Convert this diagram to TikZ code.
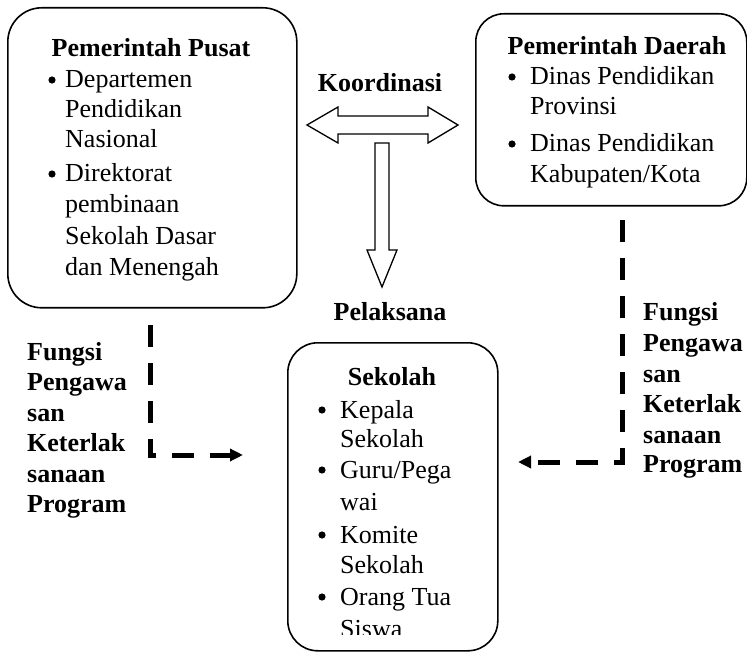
\documentclass[tikz,border=0pt]{standalone}
\usepackage{fontspec}
\setmainfont{Liberation Serif}
\usetikzlibrary{arrows.meta}
\begin{document}
\begin{tikzpicture}[x=1pt,y=-1pt,
  box/.style={draw, line width=1.6pt, rounded corners=34pt, anchor=north west, inner sep=0pt},
  txt/.style={anchor=base west, inner sep=0pt, font=\fontsize{26}{30}\selectfont},
  ttl/.style={anchor=base, inner sep=0pt, font=\fontsize{26}{30}\selectfont\bfseries},
  lbl/.style={anchor=base west, inner sep=0pt, font=\fontsize{26}{30}\selectfont\bfseries},
  blockarrow/.style={draw, line width=1.3pt, fill=white, line join=miter},
  dashline/.style={line width=5pt, dash pattern=on 22pt off 16pt, line join=miter,
    -{Triangle[length=13pt,width=12pt]}}
]
\useasboundingbox (0,0) rectangle (747,652);

% boxes
\node[box, minimum width=289pt, minimum height=300pt] (pusat) at (7,7) {};
\node[box, minimum width=271pt, minimum height=192pt, rounded corners=28pt] (daerah) at (475,13) {};
\node[box, minimum width=210pt, minimum height=308pt, rounded corners=30pt] (sekolah) at (287,342) {};

% Pemerintah Pusat
\node[ttl] (pt) at (151,57) {Pemerintah Pusat};
\fill (52,80) circle (3.6pt);
\fill (52,174) circle (3.6pt);
\node[txt] (p1) at (65,88) {Departemen};
\node[txt] (p2) at (65,118) {Pendidikan};
\node[txt] (p3) at (65,148) {Nasional};
\node[txt] (p4) at (65,182) {Direktorat};
\node[txt] (p5) at (65,213) {pembinaan};
\node[txt] (p6) at (65,245) {Sekolah Dasar};
\node[txt] (p7) at (65,276) {dan Menengah};

% Pemerintah Daerah
\node[ttl] (dt) at (617,55) {Pemerintah Daerah};
\fill (512,77) circle (3.6pt);
\fill (512,144) circle (3.6pt);
\node[txt] (d1) at (530,85) {Dinas Pendidikan};
\node[txt] (d2) at (530,115) {Provinsi};
\node[txt] (d3) at (530,152) {Dinas Pendidikan};
\node[txt] (d4) at (530,183) {Kabupaten/Kota};

% Sekolah
\begin{scope}
\clip (287,342) rectangle (497,634);
\node[ttl] (st) at (392,385) {Sekolah};
\fill (322,410) circle (3.6pt);
\fill (322,470) circle (3.6pt);
\fill (322,535) circle (3.6pt);
\fill (322,597) circle (3.6pt);
\node[txt] (s1) at (340,418) {Kepala};
\node[txt] (s2) at (340,447) {Sekolah};
\node[txt] (s3) at (340,478) {Guru/Pega};
\node[txt] (s4) at (340,510) {wai};
\node[txt] (s5) at (340,543) {Komite};
\node[txt] (s6) at (340,573) {Sekolah};
\node[txt] (s7) at (340,605) {Orang Tua};
\node[txt] (s8) at (340,637) {Siswa};
\end{scope}

% labels
\node[ttl] (koord) at (380,92) {Koordinasi};
\node[ttl] (pelak) at (390,320) {Pelaksana};

\node[lbl] (la1) at (27,360) {Fungsi};
\node[lbl] (la2) at (27,390.5) {Pengawa};
\node[lbl] (la3) at (27,421) {san};
\node[lbl] (la4) at (27,451.5) {Keterlak};
\node[lbl] (la5) at (27,482) {sanaan};
\node[lbl] (la6) at (27,512.5) {Program};

\node[lbl] (ra1) at (643,320) {Fungsi};
\node[lbl] (ra2) at (643,351.5) {Pengawa};
\node[lbl] (ra3) at (643,382) {san};
\node[lbl] (ra4) at (643,412.5) {Keterlak};
\node[lbl] (ra5) at (643,443) {sanaan};
\node[lbl] (ra6) at (643,472) {Program};

% block arrows
\draw[blockarrow] (307,125) -- (338,107) -- (338,116) -- (428,116) -- (428,107)
  -- (458,125) -- (428,143) -- (428,134) -- (338,134) -- (338,143) -- cycle;
\draw[blockarrow] (375,143) -- (389,143) -- (389,250) -- (397,250) -- (382,287)
  -- (367,250) -- (375,250) -- cycle;

% dashed connectors
\coordinate (l1) at (150,325);
\coordinate (l2) at (150,455);
\coordinate (l3) at (243,455);
\draw[dashline] (l1) -- (l2) -- (l3);
\coordinate (r1) at (622,220);
\coordinate (r2) at (622,462);
\coordinate (r3) at (518,462);
\draw[dashline] (r1) -- (r2) -- (r3);
\end{tikzpicture}
\end{document}
